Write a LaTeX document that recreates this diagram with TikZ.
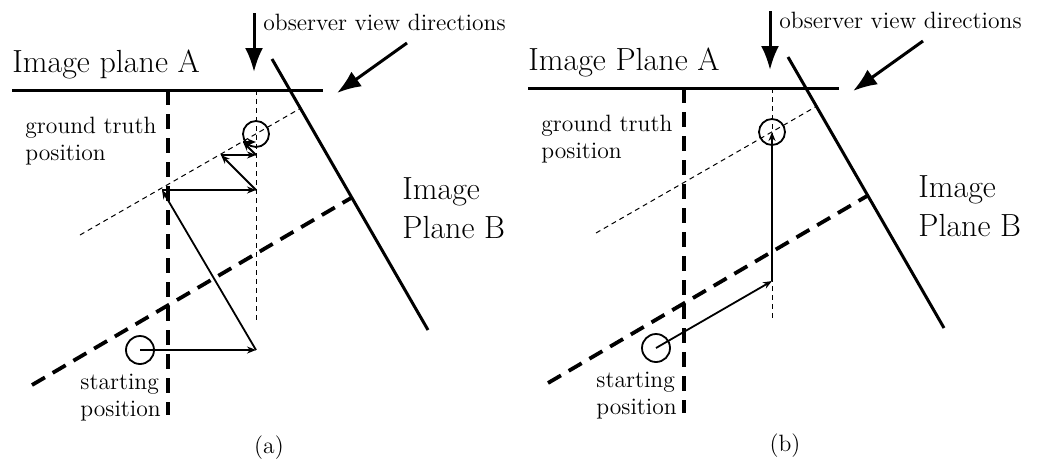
\documentclass[tikz,border=0pt]{standalone}
\usetikzlibrary{arrows.meta}
\begin{document}
\begin{tikzpicture}[x=0.5pt, y=-0.5pt,
  plane/.style={line width=1.5pt},
  ray/.style={line width=1.9pt, dash pattern=on 7.5pt off 4.5pt},
  guide/.style={line width=0.5pt, dash pattern=on 2.5pt off 2pt},
  ring/.style={line width=0.9pt},
  hop/.style={line width=0.9pt, -{Stealth[length=4.5pt,width=3.5pt]}},
  view/.style={line width=1.5pt, -{Latex[length=12pt,width=9pt]}},
  big/.style={font=\fontsize{16}{19.5}\selectfont, inner sep=0pt, align=left},
  small/.style={font=\fontsize{11.8}{13.5}\selectfont, inner sep=0pt, align=left}]
  \useasboundingbox (0,0) rectangle (1042,466);
  % both panels share the planes, the guides and the labels
  \foreach \dx/\dy/\pl/\lb in {0/0/plane/a, 516/-2/Plane/b}{
  \begin{scope}[shift={(\dx,\dy)}]
    \coordinate (gt\lb) at (256,134);
    \coordinate (st\lb) at (140,350);
    \draw[guide] (256,90) -- (256,321);
    \draw[guide] (80,235) -- (301,108);
    \draw[ray] (168,90) -- (168,415);
    \draw[ray] (32,385) -- (351,198);
    \draw[plane] (12,90) -- (323,90);
    \draw[plane] (272,59) -- (428,330);
    \draw[ring] (gt\lb) circle[radius=13];
    \draw[ring] (st\lb) circle[radius=14];
    \coordinate (va\lb) at (254,13);
    \coordinate (vb\lb) at (407,43);
    \draw[view] (va\lb) -- (254,72);
    \draw[view] (vb\lb) -- (337,93);
    \node[big, anchor=base west] (pa\lb) at (12,72) {Image \pl\ A};
    \node[big, anchor=north west] (pb\lb) at (402,177) {Image\\Plane B};
    \node[small, anchor=base west] (ov\lb) at (263,30) {observer view directions};
    \node[small, anchor=north west] (tg\lb) at (25,117) {ground truth\\position};
    \node[small, anchor=north west] (ts\lb) at (80,374) {starting\\position};
    \node[small] (cap\lb) at (269,448) {(\lb)};
  \end{scope}}
  % (a) alternating projections
  \coordinate (q0) at (256,350);
  \coordinate (p1) at (162,190);
  \coordinate (q1) at (256,190);
  \coordinate (p2) at (221,155);
  \coordinate (q2) at (256,155);
  \coordinate (p3) at (243,142);
  \coordinate (q3) at (256,142);
  \draw[hop] (sta) -- (q0);
  \draw[hop] (q0) -- (p1);
  \draw[hop] (p1) -- (q1);
  \draw[hop] (q1) -- (p2);
  \draw[hop] (p2) -- (q2);
  \draw[hop] (q2) -- (p3);
  \draw[hop] (p3) -- (q3);
  % (b) two steps
  \coordinate (r1) at (772,281);
  \draw[hop] (stb) -- (r1);
  \draw[hop] (r1) -- (gtb);
\end{tikzpicture}
\end{document}
